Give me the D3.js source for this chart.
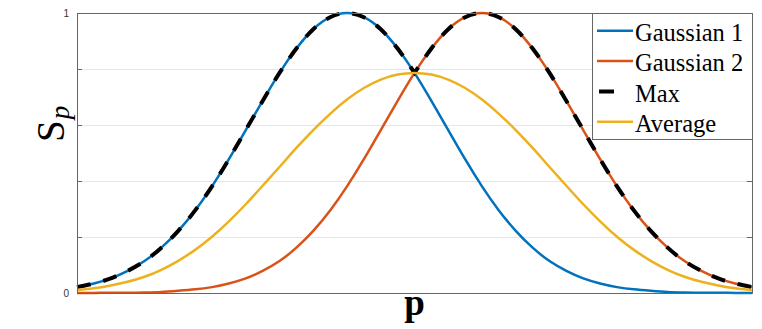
<!DOCTYPE html>
<html><head><meta charset="utf-8">
<script src="https://cdn.jsdelivr.net/npm/d3@7/dist/d3.min.js"></script>
<style>body{margin:0;background:#fff}svg{display:block}</style>
</head><body>
<svg id="chart" width="762" height="329"></svg>
<script>
const pValues = [0,0.025,0.05,0.075,0.1,0.125,0.15,0.175,0.2,0.225,0.25,0.275,0.3,0.325,0.35,0.375,0.4,0.425,0.45,0.475,0.5,0.525,0.55,0.575,0.6,0.625,0.65,0.675,0.7,0.725,0.75,0.775,0.8,0.825,0.85,0.875,0.9,0.925,0.95,0.975,1];
const gaussian1 = [0.021,0.034,0.052,0.079,0.114,0.162,0.222,0.295,0.381,0.478,0.582,0.686,0.786,0.873,0.942,0.985,1.000,0.985,0.942,0.873,0.786,0.686,0.582,0.478,0.381,0.295,0.222,0.162,0.114,0.079,0.052,0.034,0.021,0.013,0.008,0.004,0.002,0.001,0.001,0.000,0.000];
const gaussian2 = [0.000,0.000,0.001,0.001,0.002,0.004,0.008,0.013,0.021,0.034,0.052,0.079,0.114,0.162,0.222,0.295,0.381,0.478,0.582,0.686,0.786,0.873,0.942,0.985,1.000,0.985,0.942,0.873,0.786,0.686,0.582,0.478,0.381,0.295,0.222,0.162,0.114,0.079,0.052,0.034,0.021];
const maxValues = [0.021,0.034,0.052,0.079,0.114,0.162,0.222,0.295,0.381,0.478,0.582,0.686,0.786,0.873,0.942,0.985,1.000,0.985,0.942,0.873,0.786,0.873,0.942,0.985,1.000,0.985,0.942,0.873,0.786,0.686,0.582,0.478,0.381,0.295,0.222,0.162,0.114,0.079,0.052,0.034,0.021];
const averageValues = [0.011,0.017,0.027,0.040,0.058,0.083,0.115,0.154,0.201,0.256,0.317,0.383,0.450,0.518,0.582,0.640,0.691,0.732,0.762,0.780,0.786,0.780,0.762,0.732,0.691,0.640,0.582,0.518,0.450,0.383,0.317,0.256,0.201,0.154,0.115,0.083,0.058,0.040,0.027,0.017,0.011];
const yTickValues = [0,0.2,0.4,0.6,0.8,1];
const yTickLabels = ["0","","","","","1"];
const seriesNames = ["Gaussian 1","Gaussian 2","Max","Average"];
const seriesColors = ["#0072BD","#D95319","#000000","#EDB120"];

const SERIF = '"Liberation Serif"';
const SANS = '"Liberation Sans"';
const svg = d3.select("#chart");
const L = 77, R = 752, T = 13, B = 293;
const x = d3.scaleLinear().domain([0,1]).range([L,R]);
const y = d3.scaleLinear().domain([0,1]).range([B,T]);

// grid
svg.append("g").attr("transform",`translate(${L},0)`)
  .call(d3.axisLeft(y).tickValues(yTickValues).tickSize(-(R-L)).tickFormat(""))
  .call(g=>{g.select(".domain").remove();g.selectAll("line").attr("stroke","#e6e6e6").attr("stroke-width",1);});

const toPts = vals => vals.map((v,i)=>[pValues[i], v]);
const line = d3.line().x(d=>x(d[0])).y(d=>y(d[1])).curve(d3.curveNatural);

const plot = svg.append("g");
plot.append("path").attr("d", line(toPts(gaussian1))).attr("fill","none").attr("stroke",seriesColors[0]).attr("stroke-width",2.5);
plot.append("path").attr("d", line(toPts(gaussian2))).attr("fill","none").attr("stroke",seriesColors[1]).attr("stroke-width",2.5);
const mp = toPts(maxValues);
const mid = pValues.indexOf(0.5);
const leftD = line(mp.slice(0,mid+1));
const rightD = line(mp.slice(mid)).replace(/^M/,"L");
plot.append("path").attr("d", leftD + rightD).attr("fill","none").attr("stroke",seriesColors[2])
  .attr("stroke-width",4).attr("stroke-dasharray","14,13");
plot.append("path").attr("d", line(toPts(averageValues))).attr("fill","none").attr("stroke",seriesColors[3]).attr("stroke-width",2.5);

// axes box
const axColor = "#666";
svg.append("g").attr("transform",`translate(${L},0)`)
  .call(d3.axisLeft(y).tickValues(yTickValues).tickSize(-5).tickPadding(8).tickFormat((d,i)=>yTickLabels[i]))
  .call(g=>{g.attr("font-family",null).attr("font-size",null);
    g.select(".domain").attr("stroke",axColor);g.selectAll("line").attr("stroke",axColor);
    g.selectAll("text").style("font-family",SANS).style("font-size","10px").attr("fill","#333");});
svg.append("g").attr("transform",`translate(${R},0)`)
  .call(d3.axisRight(y).tickValues(yTickValues).tickSize(-5).tickFormat(""))
  .call(g=>{g.select(".domain").attr("stroke",axColor);g.selectAll("line").attr("stroke",axColor);});
svg.append("g").attr("transform",`translate(0,${B})`)
  .call(d3.axisBottom(x).tickValues([]).tickSizeOuter(0))
  .call(g=>g.select(".domain").attr("stroke",axColor));
svg.append("g").attr("transform",`translate(0,${T})`)
  .call(d3.axisTop(x).tickValues([]).tickSizeOuter(0))
  .call(g=>g.select(".domain").attr("stroke",axColor));

// axis labels
svg.append("text").attr("x",(L+R)/2).attr("y",315).attr("text-anchor","middle")
  .style("font-family",SERIF).style("font-weight","bold").style("font-size","37px").text("p");
const yl = svg.append("text").attr("transform","translate(64,142) rotate(-90)")
  .style("font-family",SERIF).style("font-size","39px");
yl.append("tspan").text("S");
yl.append("tspan").style("font-style","italic").style("font-size","27px").attr("dy",5).attr("dx",1).text("p");

// legend
const lg = svg.append("g");
lg.append("rect").attr("x",592.5).attr("y",13.5).attr("width",160).attr("height",126)
  .attr("fill","#fff").attr("stroke",axColor).attr("stroke-width",1);
const rowY = [30.7,61,91.5,121.7];
seriesNames.forEach((name,i)=>{
  if (i===2) {
    lg.append("line").attr("x1",599).attr("x2",614).attr("y1",rowY[i]).attr("y2",rowY[i]).attr("stroke",seriesColors[i]).attr("stroke-width",4);
  } else {
    lg.append("line").attr("x1",597).attr("x2",633).attr("y1",rowY[i]).attr("y2",rowY[i]).attr("stroke",seriesColors[i]).attr("stroke-width",2.5);
  }
  lg.append("text").attr("x",635).attr("y",rowY[i]+10)
    .style("font-family",SERIF).style("font-size","24.5px").attr("fill","#000").text(name);
});
</script>
</body></html>
